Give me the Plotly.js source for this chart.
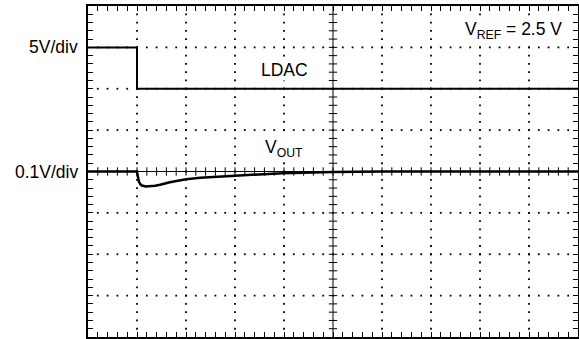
<!DOCTYPE html>
<html><head><meta charset="utf-8">
<script src="https://cdn.plot.ly/plotly-3.0.1.min.js"></script>
<style>html,body{margin:0;padding:0;background:#fff;overflow:hidden}</style>
</head><body><div id="chart" style="width:579px;height:339px"></div>
<script>
// Time axis in divisions (10 div across), vertical in divisions (8 div, centre = 0)
const ldacX = [0, 1.0, 1.0, 10];
const ldacY = [3, 3, 2, 2];
const voutX = [0, 1.0, 1.01, 1.02, 1.04, 1.07, 1.1, 1.18, 1.27, 1.37, 1.47, 1.67, 2.0, 2.29, 3.0, 3.51, 3.98, 5.0, 6.0, 10];
const voutY = [0, 0, -0.08, -0.15, -0.25, -0.31, -0.34, -0.36, -0.36, -0.345, -0.32, -0.26, -0.19, -0.15, -0.1, -0.07, -0.04, -0.01, 0, 0];
const scaleLabels = ["5V/div", "0.1V/div"];
const scaleLevels = [3, 0];
const traceLabels = ["LDAC", "V<sub>OUT</sub>", "V<sub>REF</sub> = 2.5 V"];

const X_DIVS = 10, Y_HALF = 4, SUB = 5;
const FONT = "Liberation Sans, Arial, Helvetica, sans-serif";

// dotted graticule (dots at every minor step on major grid lines)
const gx = [], gy = [];
for (let k = -Y_HALF + 1; k < Y_HALF; k++) {
  if (k === 0) continue;
  for (let i = 1; i < X_DIVS * SUB; i++) { gx.push(i / SUB); gy.push(k); }
}
for (let m = 1; m < X_DIVS; m++) {
  if (m === X_DIVS / 2) continue;
  for (let j = 1; j < 2 * Y_HALF * SUB; j++) { gx.push(m); gy.push(-Y_HALF + j / SUB); }
}
// centre-axis cross ticks
const hx = [], hy = [], vx = [], vy = [];
for (let i = 1; i < X_DIVS * SUB; i++) { hx.push(i / SUB); hy.push(0); }
for (let j = 1; j < 2 * Y_HALF * SUB; j++) { vx.push(X_DIVS / 2); vy.push(-Y_HALF + j / SUB); }

const traces = [
  {x: gx, y: gy, mode: "markers", marker: {symbol: "square", size: 1.8, color: "#000", line: {width: 0}}, hoverinfo: "skip"},
  {x: hx, y: hy, mode: "markers", marker: {symbol: "line-ns", size: 6, line: {width: 1, color: "#000"}}, hoverinfo: "skip"},
  {x: vx, y: vy, mode: "markers", marker: {symbol: "line-ew", size: 6, line: {width: 1, color: "#000"}}, hoverinfo: "skip"},
  {x: ldacX, y: ldacY, mode: "lines", line: {color: "#000", width: 2}, name: "LDAC"},
  {x: voutX, y: voutY, mode: "lines", line: {color: "#000", width: 2.5}, name: "VOUT"}
];

const ax = {
  showgrid: false, zeroline: false, showline: true, linecolor: "#000", linewidth: 2,
  mirror: "ticks", ticks: "inside", ticklen: 5, tickwidth: 1, tickcolor: "#000",
  showticklabels: false, dtick: 1 / SUB, fixedrange: true
};

const txtFont = {family: FONT, size: 17.5, color: "#000"};
const annotations = [];
scaleLabels.forEach((t, i) => annotations.push({
  text: t, xref: "paper", x: 0, xanchor: "right", xshift: -8, yref: "y", y: scaleLevels[i],
  yanchor: "middle", showarrow: false, font: txtFont
}));
annotations.push({text: traceLabels[0], x: 4.02, y: 2.46, xanchor: "center", yanchor: "middle", showarrow: false, font: txtFont, bgcolor: "#fff", borderpad: 0});
annotations.push({text: traceLabels[1], x: 3.6, y: 0.55, xanchor: "left", yanchor: "middle", showarrow: false, font: txtFont, bgcolor: "#fff", borderpad: 0});
annotations.push({text: traceLabels[2], x: 9.69, y: 3.42, xanchor: "right", yanchor: "middle", showarrow: false, font: txtFont, bgcolor: "#fff", borderpad: 0});

const layout = {
  width: 579, height: 339,
  margin: {l: 88, r: 1, t: 6, b: 2, pad: 0},
  paper_bgcolor: "#fff", plot_bgcolor: "#fff",
  showlegend: false,
  xaxis: Object.assign({}, ax, {range: [0, X_DIVS]}),
  yaxis: Object.assign({}, ax, {range: [-Y_HALF, Y_HALF], zeroline: true, zerolinecolor: "#000", zerolinewidth: 1}),
  shapes: [{type: "line", xref: "x", yref: "paper", x0: X_DIVS / 2, x1: X_DIVS / 2, y0: 0, y1: 1, line: {color: "#000", width: 1}, layer: "below"}],
  annotations: annotations,
  font: {family: FONT}
};

Plotly.newPlot("chart", traces, layout, {displayModeBar: false, staticPlot: true});
</script></body></html>
